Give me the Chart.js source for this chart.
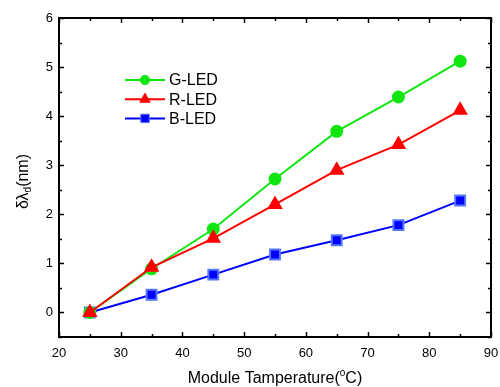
<!DOCTYPE html>
<html>
<head>
<meta charset="utf-8">
<script src="https://cdn.jsdelivr.net/npm/chart.js@4/dist/chart.umd.min.js"></script>
<style>
  html, body { margin: 0; padding: 0; background: #fff; }
  #wrap { width: 500px; height: 387px; }
</style>
</head>
<body>
<div id="wrap"><canvas id="c"></canvas></div>
<script>
const temps = [25, 35, 45, 55, 65, 75, 85];
const gLed = [0, 0.89, 1.7, 2.72, 3.69, 4.39, 5.12];
const rLed = [0, 0.92, 1.51, 2.2, 2.9, 3.42, 4.12];
const bLed = [0, 0.36, 0.77, 1.18, 1.47, 1.78, 2.28];
const xTicks = [20, 30, 40, 50, 60, 70, 80, 90];
const yTicks = [0, 1, 2, 3, 4, 5, 6];

const FONT = "'Liberation Sans', Arial, sans-serif";

// inward ticks on all four sides, plus legend and axis titles
const decor = {
  id: 'decor',
  afterDraw(chart) {
    const { ctx, chartArea: a, scales: { x, y } } = chart;
    ctx.save();
    ctx.strokeStyle = '#000';
    ctx.lineWidth = 1.5;
    for (let v = 20; v <= 90; v += 5) {
      const px = Math.round(x.getPixelForValue(v)) + 0.5;
      const len = v % 10 === 0 ? 5 : 3;
      ctx.beginPath();
      ctx.moveTo(px, a.bottom); ctx.lineTo(px, a.bottom - len);
      ctx.moveTo(px, a.top); ctx.lineTo(px, a.top + len);
      ctx.stroke();
    }
    for (let v = -0.5; v <= 6; v += 0.5) {
      const py = Math.round(y.getPixelForValue(v)) + 0.5;
      const len = Number.isInteger(v) ? 5 : 3;
      ctx.beginPath();
      ctx.moveTo(a.left, py); ctx.lineTo(a.left + len, py);
      ctx.moveTo(a.right, py); ctx.lineTo(a.right - len, py);
      ctx.stroke();
    }
    ctx.lineWidth = 2;
    ctx.strokeRect(a.left, a.top, a.right - a.left, a.bottom - a.top);

    // legend
    [0, 1, 2].forEach((di, i) => {
      const ds = chart.data.datasets[di];
      const ly = 80 + i * 19.2;
      ctx.strokeStyle = ds.borderColor;
      ctx.lineWidth = 2;
      ctx.beginPath();
      ctx.moveTo(125, ly); ctx.lineTo(165, ly);
      ctx.stroke();
      ctx.fillStyle = ds.backgroundColor;
      ctx.strokeStyle = ds.pointBorderColor;
      ctx.lineWidth = 1;
      Chart.helpers.drawPoint(ctx, {
        pointStyle: ds.pointStyle,
        radius: ds.pointRadius * 0.85,
        rotation: 0,
        borderWidth: 1
      }, 145, ly);
      ctx.fillStyle = '#000';
      ctx.font = '16px ' + FONT;
      ctx.textBaseline = 'middle';
      ctx.textAlign = 'left';
      ctx.fillText(ds.label, 169, ly + 1);
    });

    // x title
    ctx.fillStyle = '#000';
    ctx.textBaseline = 'alphabetic';
    const p1 = 'Module Tamperature(', p2 = 'o', p3 = 'C)';
    ctx.font = '16px ' + FONT;
    const w1 = ctx.measureText(p1).width, w3 = ctx.measureText(p3).width;
    ctx.font = '10px ' + FONT;
    const w2 = ctx.measureText(p2).width;
    const cx = (a.left + a.right) / 2;
    let sx = cx - (w1 + w2 + w3) / 2;
    const by = 383;
    ctx.font = '16px ' + FONT;
    ctx.fillText(p1, sx, by); sx += w1;
    ctx.font = '10px ' + FONT;
    ctx.fillText(p2, sx, by - 7); sx += w2;
    ctx.font = '16px ' + FONT;
    ctx.fillText(p3, sx, by);

    // y title
    ctx.translate(28, 181.5);
    ctx.rotate(-Math.PI / 2);
    const q1 = '\u03B4\u03BB', q2 = 'd', q3 = '(nm)';
    ctx.font = '16px ' + FONT;
    const v1 = ctx.measureText(q1).width, v3 = ctx.measureText(q3).width;
    ctx.font = '10px ' + FONT;
    const v2 = ctx.measureText(q2).width;
    let tx = -(v1 + v2 + v3) / 2;
    ctx.font = '16px ' + FONT;
    ctx.fillText(q1, tx, 0); tx += v1;
    ctx.font = '10px ' + FONT;
    ctx.fillText(q2, tx, 3); tx += v2;
    ctx.font = '16px ' + FONT;
    ctx.fillText(q3, tx, 0);
    ctx.restore();
  }
};

new Chart(document.getElementById('c'), {
  type: 'line',
  data: {
    datasets: [
      {
        label: 'G-LED',
        data: temps.map((t, i) => ({ x: t, y: gLed[i] })),
        borderColor: '#11e611',
        backgroundColor: '#11e611',
        pointBorderColor: '#11e611',
        pointStyle: 'circle',
        pointRadius: 5.5,
        borderWidth: 2,
        order: 1
      },
      {
        label: 'R-LED',
        data: temps.map((t, i) => ({ x: t, y: rLed[i] })),
        borderColor: '#ff0000',
        backgroundColor: '#ff0000',
        pointBorderColor: '#ff0000',
        pointStyle: 'triangle',
        pointRadius: 7,
        borderWidth: 2,
        order: 0
      },
      {
        label: 'B-LED',
        data: temps.map((t, i) => ({ x: t, y: bLed[i] })),
        borderColor: '#0000ff',
        backgroundColor: '#0000ff',
        pointBorderColor: '#5577ff',
        pointStyle: 'rect',
        pointRadius: 7,
        borderWidth: 2,
        order: 2
      }
    ]
  },
  options: {
    animation: false,
    responsive: true,
    maintainAspectRatio: false,
    layout: { padding: { top: 18, right: 7, left: 0, bottom: 0 } },
    elements: { line: { tension: 0 }, point: { borderWidth: 1 } },
    plugins: { legend: { display: false }, tooltip: { enabled: false } },
    scales: {
      x: {
        type: 'linear',
        min: 20, max: 90,
        afterBuildTicks: s => { s.ticks = xTicks.map(v => ({ value: v })); },
        afterFit: s => { s.height = 50; s.paddingRight = 0; s.paddingLeft = 0; },
        grid: { display: false, drawTicks: false },
        border: { display: false },
        ticks: { color: '#000', padding: 9, font: { family: FONT, size: 13 }, maxRotation: 0 }
      },
      y: {
        type: 'linear',
        min: -0.5, max: 6,
        afterBuildTicks: s => { s.ticks = yTicks.map(v => ({ value: v })); },
        afterFit: s => { s.width = 59; s.paddingTop = 0; s.paddingBottom = 0; },
        grid: { display: false, drawTicks: false },
        border: { display: false },
        ticks: { color: '#000', padding: 6, font: { family: FONT, size: 13 } }
      }
    }
  },
  plugins: [decor]
});
</script>
</body>
</html>
